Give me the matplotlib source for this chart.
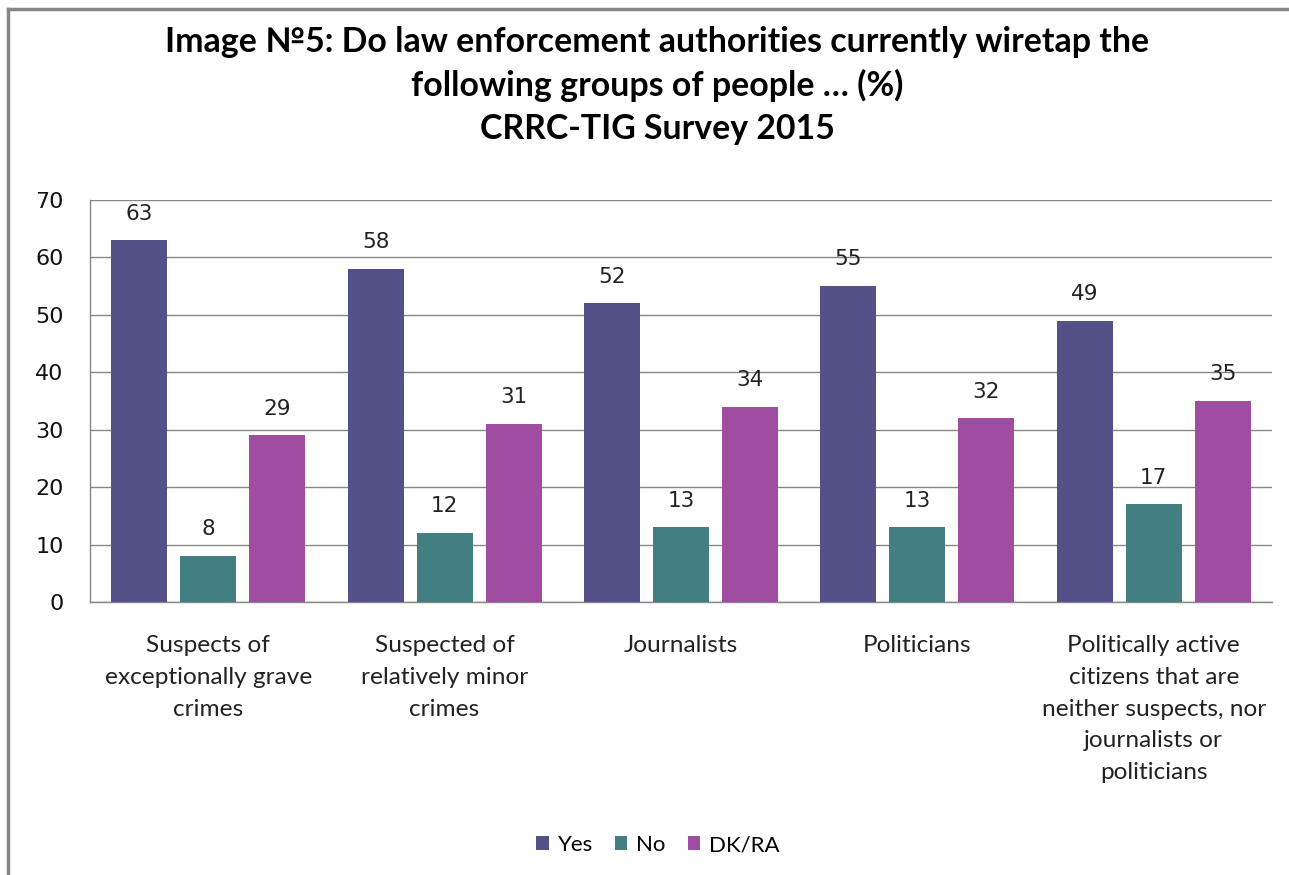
import matplotlib
matplotlib.use("Agg")
import matplotlib.pyplot as plt
import numpy as np
from matplotlib.lines import Line2D

categories = [
    "Suspects of\nexceptionally grave\ncrimes",
    "Suspected of\nrelatively minor\ncrimes",
    "Journalists",
    "Politicians",
    "Politically active\ncitizens that are\nneither suspects, nor\njournalists or\npoliticians",
]
series_names = ["Yes", "No", "DK/RA"]
yes = [63, 58, 52, 55, 49]
no = [8, 12, 13, 13, 17]
dkra = [29, 31, 34, 32, 35]
yticks = [0, 10, 20, 30, 40, 50, 60, 70]
title = "Image №5: Do law enforcement authorities currently wiretap the\nfollowing groups of people … (%)\nCRRC-TIG Survey 2015"

colors = ["#545188", "#437E83", "#A04CA0"]
text_font = ["Lato", "DejaVu Sans"]
num_font = "DejaVu Sans"

fig = plt.figure(figsize=(12.89, 8.75), dpi=100)
ax = fig.add_axes([90/1289, 1-602/875, (1272-90)/1289, (602-200)/875])

x = np.arange(len(categories))
width = 0.237
step = 0.292
for i, (vals, name, c) in enumerate(zip([yes, no, dkra], series_names, colors)):
    pos = x + (i - 1) * step
    bars = ax.bar(pos, vals, width=width, color=c, label=name, zorder=3)
    for b, v in zip(bars, vals):
        ax.annotate(str(v), (b.get_x() + b.get_width()/2, v), xytext=(0, 12),
                    textcoords="offset points", ha="center", va="bottom",
                    fontsize=15.5, family=num_font, color="#222222")

ax.set_xlim(-0.5, len(categories) - 0.5)
ax.set_ylim(0, 70)
ax.set_yticks(yticks)
ax.set_yticklabels([str(t) for t in yticks], fontsize=16, family=num_font, color="#111111")
ax.yaxis.grid(True, color="#868686", linewidth=1, zorder=0)
ax.tick_params(axis="y", length=0, pad=19)
ax.tick_params(axis="x", length=0, pad=24)
ax.set_xticks(x)
ax.set_xticklabels(categories, fontsize=17.6, family=text_font, color="#222222",
                   linespacing=1.63, va="top")
for s in ["top", "right"]:
    ax.spines[s].set_visible(False)
for s in ["left", "bottom"]:
    ax.spines[s].set_color("#868686")
    ax.spines[s].set_linewidth(1)

fig.text(657/1289, 1-26/875, title, ha="center", va="top", fontsize=24.4,
         fontweight="bold", family=text_font, linespacing=1.42)

leg = fig.legend(loc="center", bbox_to_anchor=(658/1289, 1-845/875), ncol=3,
                 frameon=False, prop={"family": text_font, "size": 16},
                 handlelength=0.55, handleheight=0.55, handletextpad=0.4, columnspacing=1.0)

# outer border lines
fig.add_artist(Line2D([8/1289, 8/1289], [0, 1-9/875], color="#868686", linewidth=2.5,
                      transform=fig.transFigure))
fig.add_artist(Line2D([8/1289, 1], [1-9/875, 1-9/875], color="#868686", linewidth=2.5,
                      transform=fig.transFigure))

fig.savefig("out.png", dpi=100)
